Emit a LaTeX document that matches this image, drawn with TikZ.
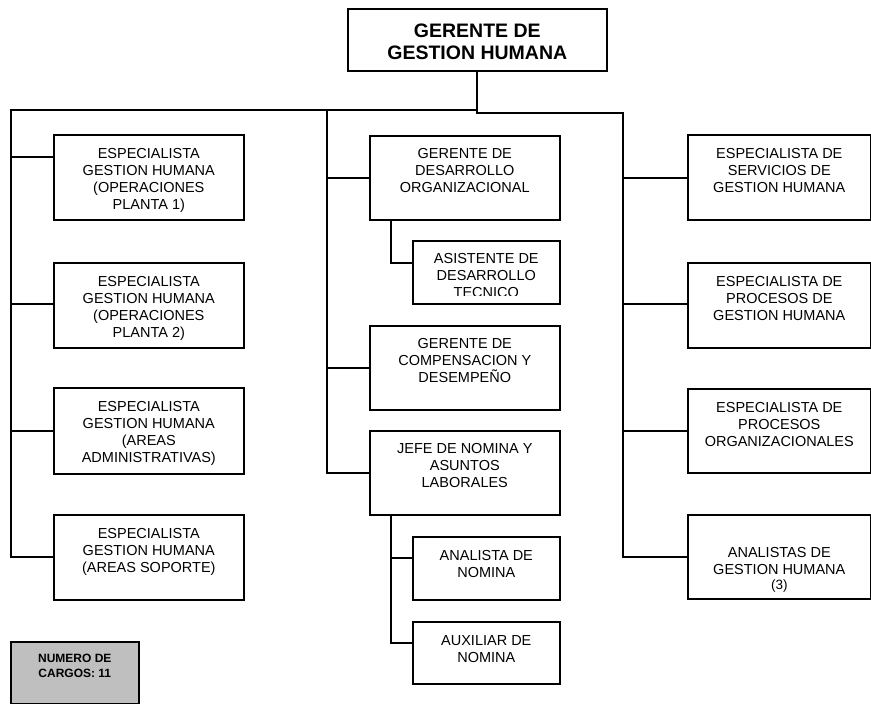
\documentclass[tikz,border=0pt]{standalone}
\usepackage{fontspec}
\setmainfont{Liberation Sans}
\begin{document}
\begin{tikzpicture}[x=1pt,y=-1pt,
  box/.style={draw, line width=1.6pt, rectangle, inner sep=0pt, anchor=north west},
  lbl/.style={inner sep=0pt, anchor=base, font=\fontsize{14.5}{17}\selectfont},
  conn/.style={line width=1.7pt, line cap=rect}]
\useasboundingbox (0,0) rectangle (871,704);

% box: name, x1, y1, x2, y2, first baseline below top, text
\newcommand\jobbox[7]{%
  \node[box, minimum width={(#4-#2)*1pt}, minimum height={(#5-#3)*1pt}] (#1) at (#2,#3) {};
  \node[lbl] (#1-text) at ([yshift=-#6pt]#1.north) {\parbox[t]{200pt}{\centering #7}};
}

% head of the department
\node[box, minimum width=259pt, minimum height=62pt] (top) at (347,8) {};
\node[lbl, font=\fontsize{19.5}{22}\selectfont\bfseries] (top-text) at ([yshift=-29pt]top.north)
  {\parbox[t]{250pt}{\centering GERENTE DE\\GESTION HUMANA}};

% left column
\jobbox{le1}{53}{134}{243}{219}{24}{ESPECIALISTA\\GESTION HUMANA\\(OPERACIONES\\PLANTA 1)}
\jobbox{le2}{53}{262}{243}{347}{24}{ESPECIALISTA\\GESTION HUMANA\\(OPERACIONES\\PLANTA 2)}
\jobbox{le3}{53}{387}{243}{473}{24}{ESPECIALISTA\\GESTION HUMANA\\(AREAS\\ADMINISTRATIVAS)}
\jobbox{le4}{53}{514}{243}{599}{24}{ESPECIALISTA\\GESTION HUMANA\\(AREAS SOPORTE)}

% middle column
\jobbox{mg1}{369}{135}{559}{219}{23}{GERENTE DE\\DESARROLLO\\ORGANIZACIONAL}
\node[box, minimum width=147pt, minimum height=63pt] (asis) at (412,240) {};
\begin{scope}
  \clip ([yshift=-1pt]asis.north west) rectangle ([yshift=9pt]asis.south east);
  \node[lbl] (asis-text) at ([yshift=-23pt]asis.north)
    {\parbox[t]{200pt}{\centering ASISTENTE DE\\DESARROLLO\\TECNICO}};
\end{scope}
\jobbox{mg2}{369}{325}{559}{409}{23}{GERENTE DE\\COMPENSACION Y\\DESEMPEÑO}
\jobbox{mg3}{369}{430}{559}{514}{23}{JEFE DE NOMINA Y\\ASUNTOS\\LABORALES}
\jobbox{an}{412}{536}{559}{599}{24}{ANALISTA DE\\NOMINA}
\jobbox{aux}{412}{621}{559}{683}{24}{AUXILIAR DE\\NOMINA}

% right column
\jobbox{r1}{687}{134}{870}{219}{24}{ESPECIALISTA DE\\SERVICIOS DE\\GESTION HUMANA}
\jobbox{r2}{687}{262}{870}{347}{24}{ESPECIALISTA DE\\PROCESOS DE\\GESTION HUMANA}
\jobbox{r3}{687}{388}{870}{472}{24}{ESPECIALISTA DE\\PROCESOS\\ORGANIZACIONALES}
\jobbox{r4}{687}{514}{870}{598}{43}{ANALISTAS DE\\GESTION HUMANA\\[-1.5pt]{\fontsize{13.5}{15}\selectfont (3)}}

% headcount
\node[box, fill=black!25, minimum width=128pt, minimum height=62pt] (count) at (10,641) {};
\node[lbl, font=\fontsize{12}{15}\selectfont\bfseries] (count-text) at ([yshift=-21pt]count.north)
  {\parbox[t]{120pt}{\centering NUMERO DE\\CARGOS: 11}};

% bus lines
\coordinate (busL) at (11,110);
\coordinate (busM) at (327,110);
\coordinate (busR) at (623,113);

\draw[conn] (top.south) -- (top.south |- busR) -- (busR);
\draw[conn] (top.south |- busL) -- (busL);

\draw[conn] (busL) |- ([yshift=20.5pt]le1.west);
\draw[conn] (busL) |- ([yshift=1pt]le2.west);
\draw[conn] (busL) |- (le3.west);
\draw[conn] (busL) |- (le4.west);

\draw[conn] (busM) |- (mg1.west);
\draw[conn] (busM) |- (mg2.west);
\draw[conn] (busM) |- (mg3.west);

\draw[conn] ([xshift=22pt]mg1.south west) |- ([yshift=9.5pt]asis.west);
\draw[conn] ([xshift=22pt]mg3.south west) |- ([yshift=10.5pt]an.west);
\draw[conn] ([xshift=22pt]mg3.south west) |- ([yshift=10pt]aux.west);

\draw[conn] (busR) |- ([yshift=-0.5pt]r1.west);
\draw[conn] (busR) |- ([yshift=1.5pt]r2.west);
\draw[conn] (busR) |- (r3.west);
\draw[conn] (busR) |- (r4.west);
\end{tikzpicture}
\end{document}
